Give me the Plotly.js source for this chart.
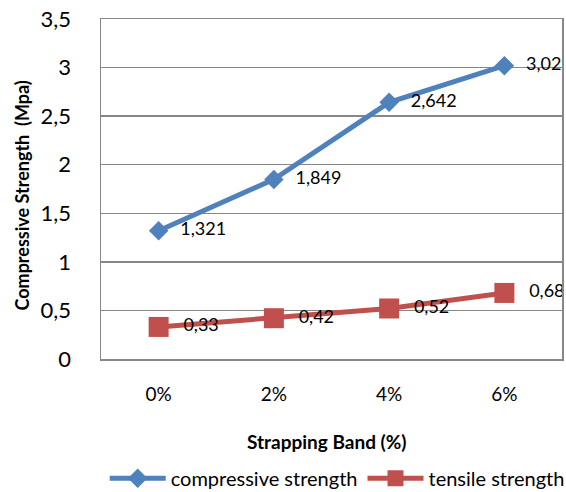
<!DOCTYPE html>
<html>
<head>
<meta charset="utf-8">
<script src="https://cdn.plot.ly/plotly-3.0.1.min.js"></script>
<style>
  html, body { margin: 0; padding: 0; background: #fff; }
  #chart { width: 566px; height: 492px; }
</style>
</head>
<body>
<div id="chart"></div>
<script>
// Strapping band content vs. strength
const bandLevels = ['0%', '2%', '4%', '6%'];
const compressiveStrength = [1.321, 1.849, 2.642, 3.02];
const tensileStrength = [0.33, 0.42, 0.52, 0.68];
const yTickValues = [0, 0.5, 1, 1.5, 2, 2.5, 3, 3.5];

const FONT = 'Lato, "Open Sans", sans-serif';
// value labels use a decimal comma, padded away from the marker
const fmt = v => '\u2002\u2009' + String(v).replace('.', ',');

const traces = [
  {
    x: bandLevels, y: compressiveStrength, name: 'compressive strength',
    type: 'scatter', mode: 'lines+markers+text',
    line: { color: '#4F81BD', width: 5 },
    marker: { symbol: 'diamond', size: 15, color: '#4F81BD' },
    text: compressiveStrength.map(fmt), textposition: 'middle right',
    textfont: { family: FONT, size: 18, color: '#000' },
    cliponaxis: false
  },
  {
    x: bandLevels, y: tensileStrength, name: 'tensile strength',
    type: 'scatter', mode: 'lines+markers+text',
    line: { color: '#C0504D', width: 5 },
    marker: { symbol: 'square', size: 20, color: '#C0504D' },
    text: tensileStrength.map(fmt), textposition: 'middle right',
    textfont: { family: FONT, size: 18, color: '#000' },
    cliponaxis: false
  }
];

const layout = {
  width: 566, height: 492,
  margin: { l: 101, r: 4, t: 19, b: 133 },
  paper_bgcolor: '#fff', plot_bgcolor: '#fff',
  separators: ',.',
  font: { family: FONT, color: '#000' },
  showlegend: true,
  legend: {
    orientation: 'h', xref: 'container', yref: 'container',
    x: 0.185, xanchor: 'left', y: 0.028, yanchor: 'middle',
    font: { family: FONT, size: 20, color: '#000' },
    traceorder: 'normal', itemwidth: 56, tracegroupgap: 0
  },
  xaxis: {
    type: 'category', range: [-0.5, 3.5],
    showgrid: false, zeroline: false,
    showline: true, linecolor: '#878787', linewidth: 1.5, mirror: true,
    ticks: '', ticklabelstandoff: 18,
    tickfont: { family: FONT, size: 19, color: '#000' }
  },
  yaxis: {
    range: [0, 3.5], tickvals: yTickValues, tickformat: ',.1~f',
    showgrid: true, gridcolor: '#878787', gridwidth: 1.5,
    zeroline: false,
    showline: true, linecolor: '#878787', linewidth: 1.5, mirror: true,
    ticks: '', ticklabelstandoff: 24,
    tickfont: { family: FONT, size: 22, color: '#000' }
  },
  annotations: [
    {
      text: '<b>Compressive Strength  (Mpa)</b>', xref: 'paper', yref: 'paper',
      x: -0.172, y: 0.48, xanchor: 'center', yanchor: 'middle', textangle: -90,
      showarrow: false, font: { family: FONT, size: 18, color: '#000' }
    },
    {
      text: '<b>Strapping Band (%)</b>', xref: 'paper', yref: 'paper',
      x: 0.49, y: -0.242, xanchor: 'center', yanchor: 'middle',
      showarrow: false, font: { family: FONT, size: 19, color: '#000' }
    }
  ]
};

Plotly.newPlot('chart', traces, layout, { displayModeBar: false, staticPlot: true });
</script>
</body>
</html>
